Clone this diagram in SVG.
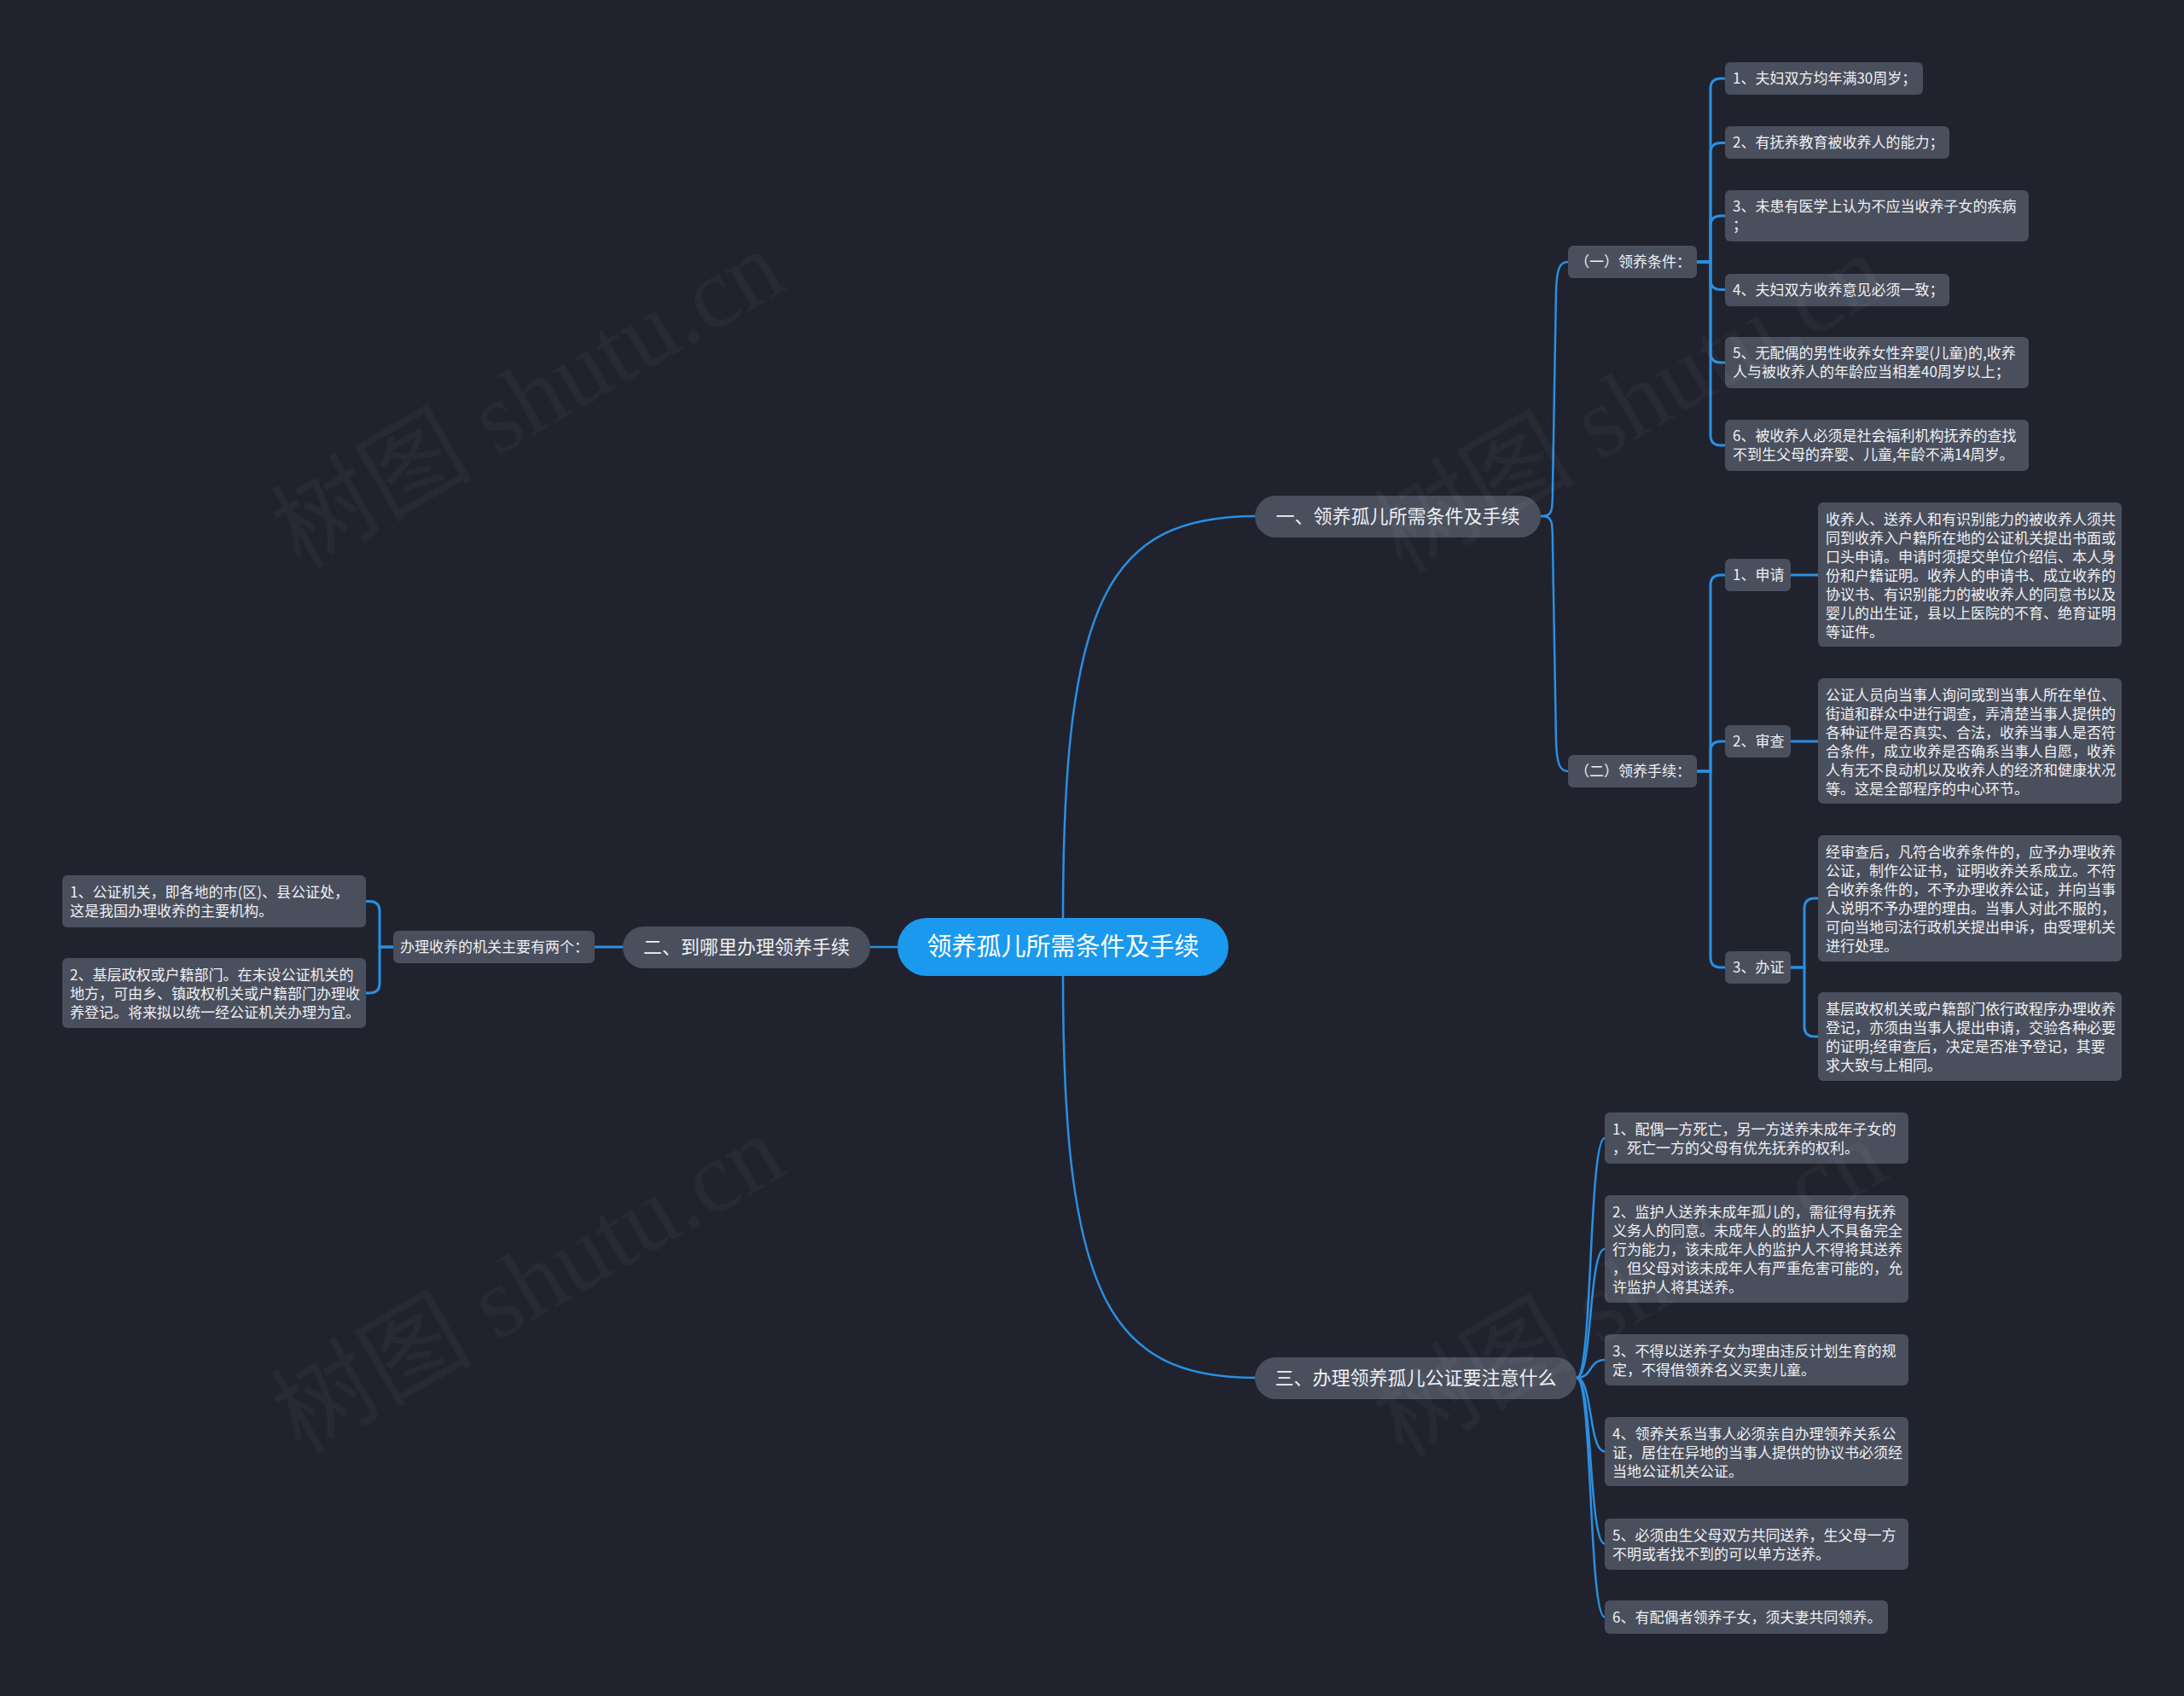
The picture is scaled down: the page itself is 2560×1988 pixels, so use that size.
<svg xmlns="http://www.w3.org/2000/svg" width="2560" height="1988" viewBox="0 0 2560 1988">
<style>
.bg{fill:#20232e}
.n rect{fill:#4a4f5d}
.n text{fill:#eef0f3;font-family:"Noto Sans CJK SC","Noto Sans",sans-serif;font-size:17px}
.br rect{fill:#4a4f5d}
.br text{fill:#eef0f3;font-family:"Noto Sans CJK SC","Noto Sans",sans-serif;font-size:22px;text-anchor:middle}
.rt rect{fill:#1a99ee}
.rt text{fill:#ffffff;font-family:"Noto Sans CJK SC","Noto Sans",sans-serif;font-size:29px;text-anchor:middle}
.c path{fill:none;stroke:#2b8fe2;stroke-width:3;stroke-linecap:round}
.c path.s{stroke-width:2.5}
.wm{fill:#ffffff;fill-opacity:0.035;font-family:"Liberation Serif","Noto Sans CJK SC",serif;font-size:118px}
</style>
<rect class="bg" x="0" y="0" width="2560" height="1988"/>

<g id="connectors" class="c">
  <!-- root to branches -->
  <path class="s" d="M1246,1076 C1246,700 1300,605 1473,605"/>
  <path class="s" d="M1246,1144 C1246,1520 1300,1615 1473,1615"/>
  <path class="s" d="M1052,1110 H1020"/>
  <!-- branch 2 -->
  <path d="M730,1110 H697"/>
  <path d="M461,1110 H445 V1068.5 Q445,1056.5 433,1056.5 H429"/>
  <path d="M461,1110 H445 V1152 Q445,1164 433,1164 H429"/>
  <!-- branch 1 to sub nodes -->
  <path class="s" d="M1806,605 C1820,605 1820,600 1820,570 L1824,340 C1825,315 1828,307 1838,307"/>
  <path class="s" d="M1806,605 C1820,605 1820,610 1820,640 L1824,870 C1825,895 1828,904 1838,904"/>
  <!-- (一) to leaves -->
  <path d="M1989,307 H2005 V104 Q2005,92 2017,92 H2022"/>
  <path d="M1989,307 H2005 V179.5 Q2005,167.5 2017,167.5 H2022"/>
  <path d="M1989,307 H2005 V265 Q2005,253 2017,253 H2022"/>
  <path d="M1989,307 H2005 V327.5 Q2005,339.5 2017,339.5 H2022"/>
  <path d="M1989,307 H2005 V413 Q2005,425 2017,425 H2022"/>
  <path d="M1989,307 H2005 V510 Q2005,522 2017,522 H2022"/>
  <!-- (二) to steps -->
  <path d="M1989,904 H2005 V686 Q2005,674 2017,674 H2022"/>
  <path d="M1989,904 H2005 V881 Q2005,869 2017,869 H2022"/>
  <path d="M1989,904 H2005 V1122 Q2005,1134 2017,1134 H2022"/>
  <path d="M2099,674 H2131"/>
  <path d="M2099,869 H2131"/>
  <path d="M2099,1134 H2115 V1065 Q2115,1053 2127,1053 H2131"/>
  <path d="M2099,1134 H2115 V1203 Q2115,1215 2127,1215 H2131"/>
  <!-- branch 3 to leaves -->
  <path class="s" d="M1848,1615 C1867,1615 1862,1334 1881,1334"/>
  <path class="s" d="M1848,1615 C1867,1615 1862,1464 1881,1464"/>
  <path class="s" d="M1848,1615 C1867,1615 1862,1594 1881,1594"/>
  <path class="s" d="M1848,1615 C1867,1615 1862,1701.5 1881,1701.5"/>
  <path class="s" d="M1848,1615 C1867,1615 1862,1809.5 1881,1809.5"/>
  <path class="s" d="M1848,1615 C1867,1615 1862,1895.5 1881,1895.5"/>
</g>

<g id="root" class="rt"><rect x="1052" y="1076" width="388" height="68" rx="34"/><text x="1246" y="1120">领养孤儿所需条件及手续</text></g>

<g id="b1" class="br"><rect x="1471" y="581" width="335" height="49" rx="24.5"/><text x="1638.5" y="613">一、领养孤儿所需条件及手续</text></g>
<g id="b2" class="br"><rect x="730" y="1086" width="290" height="49" rx="24.5"/><text x="875" y="1118">二、到哪里办理领养手续</text></g>
<g id="b3" class="br"><rect x="1471" y="1591" width="377" height="49" rx="24.5"/><text x="1659.5" y="1623">三、办理领养孤儿公证要注意什么</text></g>

<g id="s1" class="n"><rect x="1838" y="288" width="151" height="38" rx="6"/><text x="1846" y="313">（一）领养条件：</text></g>
<g id="s2" class="n"><rect x="1838" y="885" width="151" height="38" rx="6"/><text x="1846" y="910">（二）领养手续：</text></g>

<g id="c1" class="n"><rect x="2022" y="73" width="232" height="38" rx="6"/><text x="2031" y="98">1、夫妇双方均年满30周岁；</text></g>
<g id="c2" class="n"><rect x="2022" y="148" width="263" height="38" rx="6"/><text x="2031" y="173">2、有抚养教育被收养人的能力；</text></g>
<g id="c3" class="n"><rect x="2022" y="223" width="356" height="60" rx="6"/><text x="2031" y="248">3、未患有医学上认为不应当收养子女的疾病</text><text x="2031" y="270">；</text></g>
<g id="c4" class="n"><rect x="2022" y="321" width="263" height="38" rx="6"/><text x="2031" y="346">4、夫妇双方收养意见必须一致；</text></g>
<g id="c5" class="n"><rect x="2022" y="395" width="356" height="60" rx="6"/><text x="2031" y="420">5、无配偶的男性收养女性弃婴(儿童)的,收养</text><text x="2031" y="442">人与被收养人的年龄应当相差40周岁以上；</text></g>
<g id="c6" class="n"><rect x="2022" y="492" width="356" height="60" rx="6"/><text x="2031" y="517">6、被收养人必须是社会福利机构抚养的查找</text><text x="2031" y="539">不到生父母的弃婴、儿童,年龄不满14周岁。</text></g>

<g id="p1" class="n"><rect x="2022" y="655" width="77" height="38" rx="6"/><text x="2031" y="680">1、申请</text></g>
<g id="p2" class="n"><rect x="2022" y="850" width="77" height="38" rx="6"/><text x="2031" y="875">2、审查</text></g>
<g id="p3" class="n"><rect x="2022" y="1115" width="77" height="38" rx="6"/><text x="2031" y="1140">3、办证</text></g>

<g id="p1t" class="n"><rect x="2131" y="589" width="356" height="169" rx="6"/>
<text x="2140" y="615">收养人、送养人和有识别能力的被收养人须共</text>
<text x="2140" y="637">同到收养入户籍所在地的公证机关提出书面或</text>
<text x="2140" y="659">口头申请。申请时须提交单位介绍信、本人身</text>
<text x="2140" y="681">份和户籍证明。收养人的申请书、成立收养的</text>
<text x="2140" y="703">协议书、有识别能力的被收养人的同意书以及</text>
<text x="2140" y="725">婴儿的出生证，县以上医院的不育、绝育证明</text>
<text x="2140" y="747">等证件。</text></g>

<g id="p2t" class="n"><rect x="2131" y="795" width="356" height="147" rx="6"/>
<text x="2140" y="821">公证人员向当事人询问或到当事人所在单位、</text>
<text x="2140" y="843">街道和群众中进行调查，弄清楚当事人提供的</text>
<text x="2140" y="865">各种证件是否真实、合法，收养当事人是否符</text>
<text x="2140" y="887">合条件，成立收养是否确系当事人自愿，收养</text>
<text x="2140" y="909">人有无不良动机以及收养人的经济和健康状况</text>
<text x="2140" y="931">等。这是全部程序的中心环节。</text></g>

<g id="p3t1" class="n"><rect x="2131" y="979" width="356" height="148" rx="6"/>
<text x="2140" y="1005">经审查后，凡符合收养条件的，应予办理收养</text>
<text x="2140" y="1027">公证，制作公证书，证明收养关系成立。不符</text>
<text x="2140" y="1049">合收养条件的，不予办理收养公证，并向当事</text>
<text x="2140" y="1071">人说明不予办理的理由。当事人对此不服的，</text>
<text x="2140" y="1093">可向当地司法行政机关提出申诉，由受理机关</text>
<text x="2140" y="1115">进行处理。</text></g>

<g id="p3t2" class="n"><rect x="2131" y="1163" width="356" height="104" rx="6"/>
<text x="2140" y="1189">基层政权机关或户籍部门依行政程序办理收养</text>
<text x="2140" y="1211">登记，亦须由当事人提出申请，交验各种必要</text>
<text x="2140" y="1233">的证明;经审查后，决定是否准予登记，其要</text>
<text x="2140" y="1255">求大致与上相同。</text></g>

<g id="d1" class="n"><rect x="1881" y="1304" width="356" height="60" rx="6"/>
<text x="1890" y="1330">1、配偶一方死亡，另一方送养未成年子女的</text>
<text x="1890" y="1352">，死亡一方的父母有优先抚养的权利。</text></g>
<g id="d2" class="n"><rect x="1881" y="1401" width="356" height="126" rx="6"/>
<text x="1890" y="1427">2、监护人送养未成年孤儿的，需征得有抚养</text>
<text x="1890" y="1449">义务人的同意。未成年人的监护人不具备完全</text>
<text x="1890" y="1471">行为能力，该未成年人的监护人不得将其送养</text>
<text x="1890" y="1493">，但父母对该未成年人有严重危害可能的，允</text>
<text x="1890" y="1515">许监护人将其送养。</text></g>
<g id="d3" class="n"><rect x="1881" y="1564" width="356" height="60" rx="6"/>
<text x="1890" y="1590">3、不得以送养子女为理由违反计划生育的规</text>
<text x="1890" y="1612">定，不得借领养名义买卖儿童。</text></g>
<g id="d4" class="n"><rect x="1881" y="1661" width="356" height="81" rx="6"/>
<text x="1890" y="1687">4、领养关系当事人必须亲自办理领养关系公</text>
<text x="1890" y="1709">证，居住在异地的当事人提供的协议书必须经</text>
<text x="1890" y="1731">当地公证机关公证。</text></g>
<g id="d5" class="n"><rect x="1881" y="1780" width="356" height="60" rx="6"/>
<text x="1890" y="1806">5、必须由生父母双方共同送养，生父母一方</text>
<text x="1890" y="1828">不明或者找不到的可以单方送养。</text></g>
<g id="d6" class="n"><rect x="1881" y="1876" width="332" height="39" rx="6"/>
<text x="1890" y="1902">6、有配偶者领养子女，须夫妻共同领养。</text></g>

<g id="a0" class="n"><rect x="461" y="1091" width="236" height="38" rx="6"/><text x="469" y="1116">办理收养的机关主要有两个：</text></g>
<g id="a1" class="n"><rect x="73" y="1026" width="356" height="61" rx="6"/>
<text x="82" y="1052">1、公证机关，即各地的市(区)、县公证处，</text>
<text x="82" y="1074">这是我国办理收养的主要机构。</text></g>
<g id="a2" class="n"><rect x="73" y="1123" width="356" height="82" rx="6"/>
<text x="82" y="1149">2、基层政权或户籍部门。在未设公证机关的</text>
<text x="82" y="1171">地方，可由乡、镇政权机关或户籍部门办理收</text>
<text x="82" y="1193">养登记。将来拟以统一经公证机关办理为宜。</text></g>

<g id="watermarks">
<text class="wm" transform="translate(352,668) rotate(-30)">树图 shutu.cn</text>
<text class="wm" transform="translate(1644,673) rotate(-30)">树图 shutu.cn</text>
<text class="wm" transform="translate(352,1705) rotate(-30)">树图 shutu.cn</text>
<text class="wm" transform="translate(1644,1710) rotate(-30)">树图 shutu.cn</text>
</g>
</svg>
